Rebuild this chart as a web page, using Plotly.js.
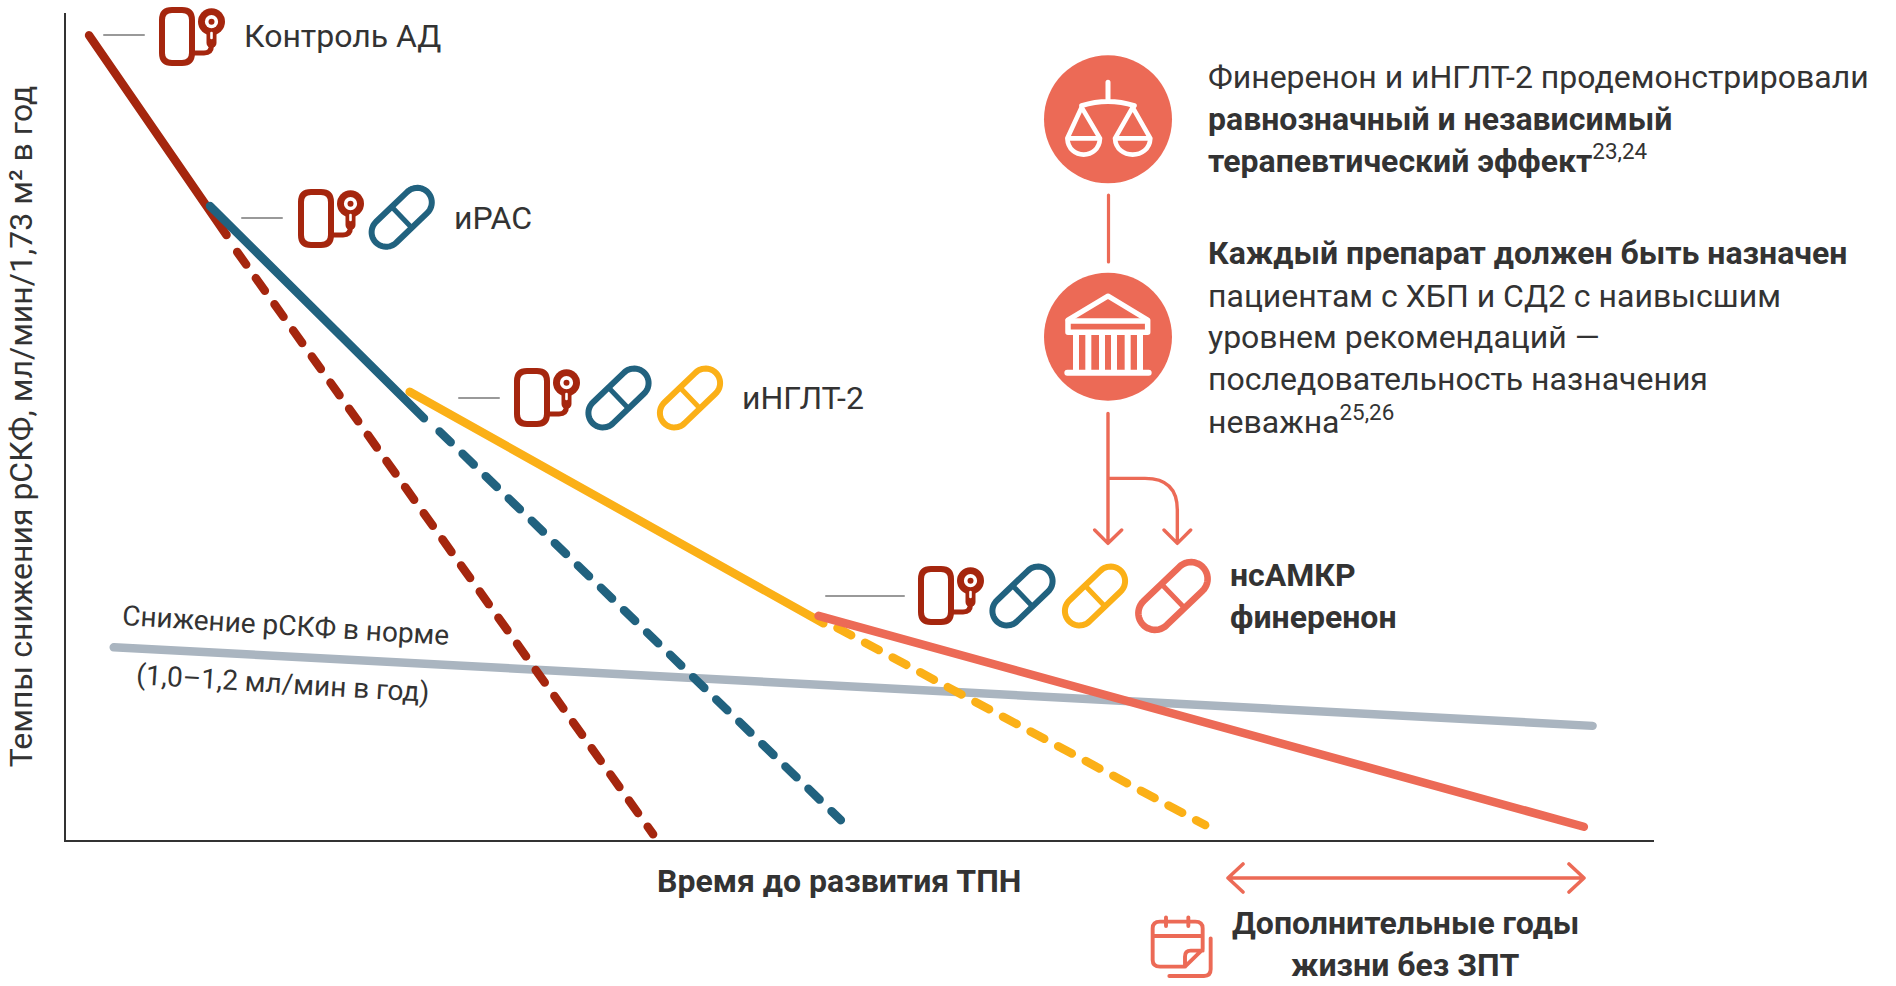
<!DOCTYPE html>
<html><head><meta charset="utf-8">
<script src="https://cdn.plot.ly/plotly-3.0.1.min.js"></script>
<style>
html,body{margin:0;padding:0;background:#fff;overflow:hidden}
.scatterlayer .js-line{stroke-linecap:round;stroke-linejoin:round}
.shapelayer path{stroke-linecap:round;stroke-linejoin:round}
</style></head><body><div id="chart" style="width:1896px;height:986px"></div>
<script>
// Series values (arbitrary units, the chart has no numeric scale)
const normX=[3.0,29.35,67.0,95.95];      const normY=[23.3,20.6,16.7,13.8];
const bpX=[1.45,10.09];                  const bpY=[97.3,73.16];
const bpDashX=[10.76,36.9];              const bpDashY=[71.1,0.7];
const rasX=[9.05,22.5];                  const rasY=[76.66,51.0];
const rasDashX=[23.48,48.7];             const rasDashY=[49.4,2.4];
const sgltX=[21.6,47.6];                 const sgltY=[54.2,26.2];
const sgltDashX=[48.49,71.6];            const sgltDashY=[25.64,1.8];
const fineX=[47.3,95.4];                 const fineY=[27.1,1.6];
const yTitle="Темпы снижения рСКФ, мл/мин/1,73 м² в год";
const xTitle="Время до развития ТПН";
const stepLabels=["Контроль АД","иРАС","иНГЛТ-2"];
const fineLabels=["нсАМКР","финеренон"];
const normLabels=["Снижение рСКФ в норме","(1,0–1,2 мл/мин в год)"];
const topText=["Финеренон и иНГЛТ-2 продемонстрировали","<b>равнозначный и независимый</b>","<b>терапевтический эффект</b><sup>23,24</sup>"];
const lowText=["<b>Каждый препарат должен быть назначен</b>","пациентам с ХБП и СД2 с наивысшим","уровнем рекомендаций —","последовательность назначения","неважна<sup>25,26</sup>"];
const extraLabels=["Дополнительные годы","жизни без ЗПТ"];

const RED="#a5260e",BLUE="#21627f",YEL="#fbb017",COR="#ec6a56",GREY="#aab5c0",TXT="#333333";
const L=66,T=13,W=1588,H=827,FIG_W=1896,FIG_H=986;
const X=p=>(p-L)/W, Y=p=>(T+H-p)/H;
const path=(s,ox=0,oy=0,k=1)=>{let i=0;return s.replace(/-?\d+(\.\d+)?/g,m=>{const v=+m;const r=(i++%2===0)?X(ox+k*v):Y(oy+k*v);return r.toFixed(6);});};
const shapes=[];
const stroke=(d,color,w,fill)=>shapes.push({type:'path',xref:'paper',yref:'paper',path:d,line:{color,width:w},fillcolor:fill||'rgba(0,0,0,0)',layer:'above'});
const circle=(cx,cy,r,fill)=>shapes.push({type:'circle',xref:'paper',yref:'paper',x0:X(cx-r),x1:X(cx+r),y0:Y(cy+r),y1:Y(cy-r),fillcolor:fill,line:{width:0},layer:'above'});

function monitor(dx,dy){
  stroke(path("M 172 10 L 182 10 Q 192 10 192 20 L 192 53 Q 192 63 182 63 L 172 63 Q 162 63 162 53 L 162 20 Q 162 10 172 10 Z",dx,dy),RED,6);
  stroke(path("M 195 53 L 204 53 Q 211.5 53 211.5 45 L 211.5 35",dx,dy),RED,5);
  stroke(path("M 211.5 34 L 211.5 43",dx,dy),RED,10);
  circle(211.5+dx,21.7+dy,13.5,RED);
  circle(211.5+dx,21.7+dy,6.6,"#ffffff");
  circle(211.5+dx,21.7+dy,3,RED);
  stroke(path("M 211.5 33 L 211.5 38",dx,dy),"#ffffff",2.6);
}
function pill(cx,cy,color,k=1){
  const ux=0.722,uy=-0.692,h=21.6*k,r=14.5*k,a0=Math.atan2(uy,ux);
  const pts=[];
  for(let i=0;i<=24;i++){const a=a0-Math.PI/2+Math.PI*i/24;pts.push([cx+ux*h+r*Math.cos(a),cy+uy*h+r*Math.sin(a)]);}
  for(let i=0;i<=24;i++){const a=a0+Math.PI/2+Math.PI*i/24;pts.push([cx-ux*h+r*Math.cos(a),cy-uy*h+r*Math.sin(a)]);}
  stroke(path("M "+pts.map(p=>p[0].toFixed(2)+" "+p[1].toFixed(2)).join(" L ")+" Z"),color,6*(k>1?1.1:1));
  const nx=-uy,ny=ux;
  stroke(path(`M ${(cx-nx*r).toFixed(2)} ${(cy-ny*r).toFixed(2)} L ${(cx+nx*r).toFixed(2)} ${(cy+ny*r).toFixed(2)}`),color,5);
}
const tick=(x0,x1,y)=>stroke(path(`M ${x0} ${y} L ${x1} ${y}`),"#999999",2);

tick(104,144,35); tick(242,282,218); tick(459,499,398); tick(826,904,596);
monitor(0,0); monitor(139,182); monitor(355,361); monitor(759,559);
pill(401.7,217.3,BLUE);
pill(618.5,398,BLUE); pill(690,398,YEL);
pill(1022.5,596,BLUE); pill(1095,596,YEL); pill(1173,596,COR,1.15);

// Scales badge
circle(1108,119.3,64,COR);
let ox=1040,oy=50,k=1/3;
stroke(path("M 204 97 L 204 150 M 125 167 Q 204 142 283 167",ox,oy,k),"#fff",5);
stroke(path("M 125 172 L 82 265 C 85 330 177 330 180 265 Z M 88 265 L 175 265",ox,oy,k),"#fff",4.6);
stroke(path("M 278 172 L 225 265 C 228 330 328 330 331 265 Z M 230 265 L 325 265",ox,oy,k),"#fff",4.6);
// Temple badge
circle(1108,336.7,64,COR);
oy=270;
stroke(path("M 84 150 L 204 78 L 323 150",ox,oy,k),"#fff",5);
stroke(path("M 84 153 L 323 153 L 323 187 L 84 187 Z",ox,oy,k),"#fff",5.5);
stroke(path("M 108 190 L 108 305 M 145 190 L 145 305 M 186 190 L 186 305 M 222 190 L 222 305 M 263 190 L 263 305 M 300 190 L 300 305",ox,oy,k),"#fff",6);
stroke(path("M 82 308 L 326 308",ox,oy,k),"#fff",6);
// Connectors and arrows
stroke(path("M 1108.5 195 L 1108.5 262"),COR,3.2);
ox=1090;oy=400;
stroke(path("M 54 40 L 54 430 M 14 390 L 54 430 L 95 390 M 54 235 L 165 235 Q 262 235 262 330 L 262 430 M 222 390 L 262 430 L 302 390",ox,oy,k),COR,3.4);
// Extra-years arrow
stroke(path("M 1228 878 L 1584 878 M 1243 864 L 1228 878 L 1243 892 M 1569 864 L 1584 878 L 1569 892"),COR,3.6);
// Calendar
ox=1140;oy=910;
stroke(path("M 135 170 L 60 170 Q 38 170 38 150 L 38 55 Q 38 35 60 35 L 166 35 Q 188 35 188 55 L 188 118 Z M 78 22 L 78 48 M 145 22 L 145 48 M 38 78 L 188 78 M 135 170 L 135 140 Q 135 122 152 122 L 188 122",ox,oy,k),COR,3.9);
stroke(path("M 212 85 L 212 178 Q 212 198 192 198 L 88 198",ox,oy,k),COR,3.9);

const anns=[];
const note=(text,x,y,o={})=>anns.push(Object.assign({text,xref:'paper',yref:'paper',x:X(x),y:Y(y),xanchor:'left',yanchor:'middle',showarrow:false,align:'left',font:{family:'Roboto',size:32,color:TXT}},o));
note(stepLabels[0],241.5,36); note(stepLabels[1],452,218); note(stepLabels[2],739.5,398);
fineLabels.forEach((t,i)=>note('<b>'+t+'</b>',1228,[575,617][i]));
topText.forEach((t,i)=>note(t,1205.5,[77,119,159.5][i]));
lowText.forEach((t,i)=>note(t,1205.5,[253,295.5,337,379.5,419.5][i]));
extraLabels.forEach((t,i)=>note('<b>'+t+'</b>',1405,[923,965][i],{xanchor:'center',align:'center'}));
normLabels.forEach((t,i)=>note(t,[285.5,282][i],[625,683.5][i],{xanchor:'center',textangle:3.5,font:{family:'Roboto',size:28,color:TXT}}));
note('<b>'+xTitle+'</b>',839,880.5,{xanchor:'center',align:'center'});

const line=(x,y,color,w,dash)=>({x,y,mode:'lines',type:'scatter',hoverinfo:'skip',showlegend:false,line:{color,width:w,dash:dash||'solid'}});
const DASH='15.5px,16.6px',DASH_Y='15.5px,15.8px';
const traces=[
 line(normX,normY,GREY,8.5),
 line(bpDashX,bpDashY,RED,8.5,DASH),
 line(rasDashX,rasDashY,BLUE,8.5,DASH),
 line(sgltDashX,sgltDashY,YEL,8.5,DASH_Y),
 line(bpX,bpY,RED,8.5),
 line(rasX,rasY,BLUE,8.5),
 line(sgltX,sgltY,YEL,8.5),
 line(fineX,fineY,COR,8.5)
];
const axis=(extra)=>Object.assign({showgrid:false,zeroline:false,showticklabels:false,ticks:'',showline:true,linecolor:TXT,linewidth:2,fixedrange:true,mirror:false},extra);
Plotly.newPlot('chart',traces,{
 width:FIG_W,height:FIG_H,paper_bgcolor:'#fff',plot_bgcolor:'#fff',showlegend:false,
 margin:{l:L,t:T,r:FIG_W-L-W,b:FIG_H-T-H,pad:0},
 xaxis:axis({range:[0,99.81]}),
 yaxis:axis({range:[0,100],title:{text:yTitle,font:{family:'Roboto',size:32,color:TXT},standoff:22}}),
 shapes,annotations:anns
},{displayModeBar:false,staticPlot:true});
</script></body></html>
